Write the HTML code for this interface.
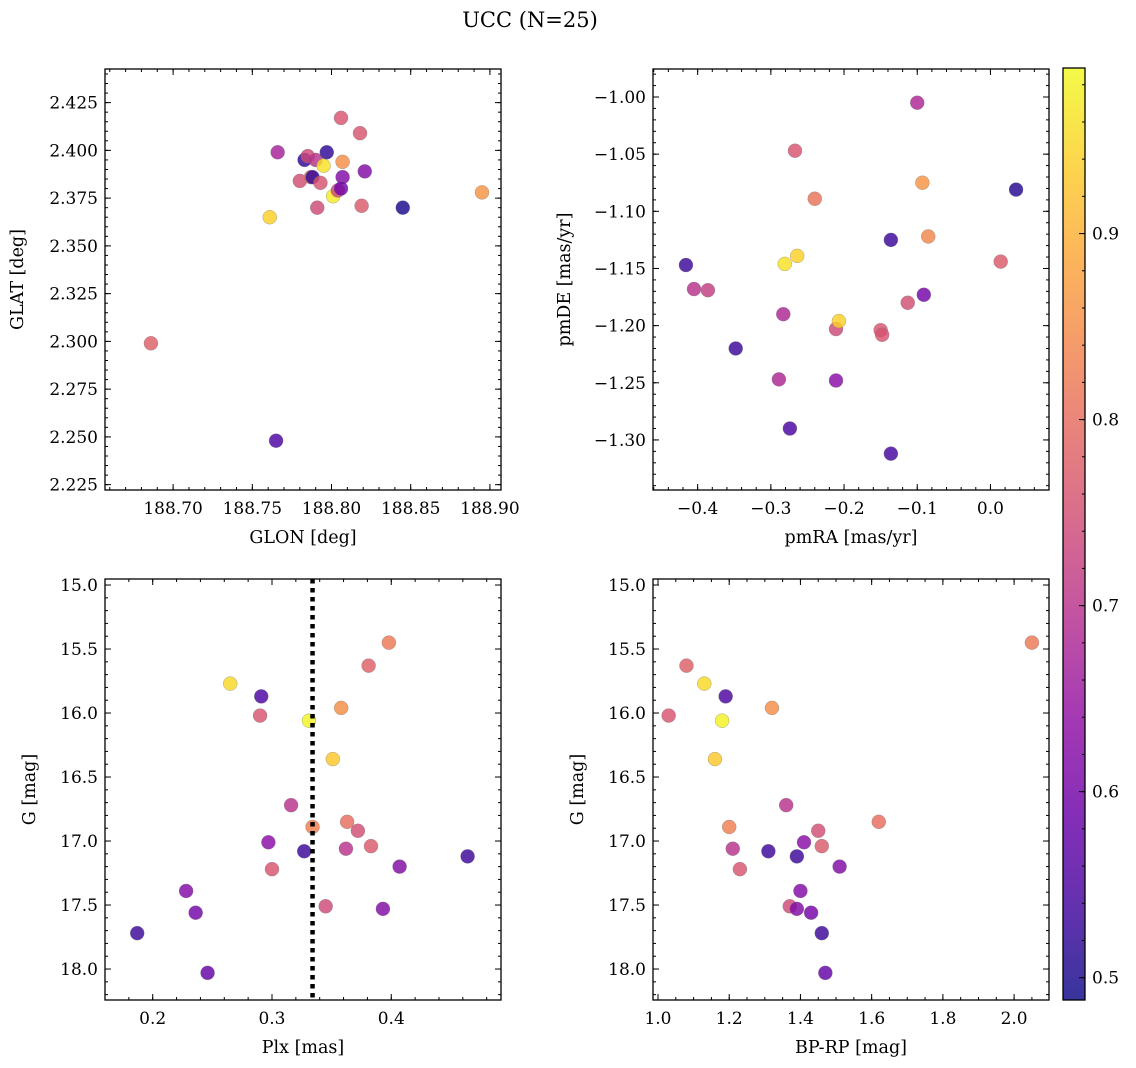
<!DOCTYPE html>
<html><head><meta charset="utf-8"><style>
html,body{margin:0;padding:0;background:#fff}
svg{display:block;font-family:"DejaVu Serif","Liberation Serif",serif}
</style></head><body>
<svg id="fig" width="1136" height="1068" viewBox="0 0 1136 1068" xmlns="http://www.w3.org/2000/svg">
<text x="530" y="27" font-size="21" text-anchor="middle">UCC (N=25)</text>
</svg>
<script>
const glon=[188.686,188.765,188.761,188.766,188.783,188.780,188.785,188.787,188.788,188.790,188.793,188.791,188.795,188.797,188.801,188.804,188.806,188.807,188.807,188.806,188.818,188.821,188.819,188.845,188.895];
const glat=[2.299,2.248,2.365,2.399,2.395,2.384,2.397,2.386,2.386,2.395,2.383,2.370,2.392,2.399,2.376,2.379,2.417,2.394,2.386,2.380,2.409,2.389,2.371,2.370,2.378];
const valA=[0.78,0.55,0.94,0.67,0.52,0.75,0.74,0.80,0.52,0.70,0.76,0.74,0.96,0.52,0.97,0.74,0.76,0.85,0.62,0.60,0.76,0.62,0.77,0.50,0.86];
const pmra=[-0.416,-0.405,-0.386,-0.348,-0.289,-0.283,-0.274,-0.281,-0.264,-0.267,-0.240,-0.211,-0.207,-0.211,-0.150,-0.148,-0.136,-0.136,-0.113,-0.100,-0.093,-0.091,-0.085,0.014,0.035];
const pmde=[-1.147,-1.168,-1.169,-1.220,-1.247,-1.190,-1.290,-1.146,-1.139,-1.047,-1.089,-1.203,-1.196,-1.248,-1.204,-1.208,-1.125,-1.312,-1.180,-1.005,-1.075,-1.173,-1.122,-1.144,-1.081];
const valB=[0.53,0.70,0.72,0.53,0.68,0.68,0.55,0.96,0.94,0.76,0.81,0.74,0.94,0.63,0.76,0.76,0.53,0.54,0.75,0.68,0.86,0.60,0.84,0.77,0.51];
const plx=[0.398,0.381,0.265,0.291,0.290,0.331,0.358,0.351,0.316,0.334,0.363,0.372,0.383,0.297,0.362,0.327,0.464,0.407,0.300,0.228,0.345,0.393,0.236,0.187,0.246];
const gmag=[15.45,15.63,15.77,15.87,16.02,16.06,15.96,16.36,16.72,16.89,16.85,16.92,17.04,17.01,17.06,17.08,17.12,17.20,17.22,17.39,17.51,17.53,17.56,17.72,18.03];
const bprp=[2.05,1.08,1.13,1.19,1.03,1.18,1.32,1.16,1.36,1.20,1.62,1.45,1.46,1.41,1.21,1.31,1.39,1.51,1.23,1.40,1.37,1.39,1.43,1.46,1.47];
const valC=[0.82,0.78,0.95,0.55,0.76,0.98,0.85,0.93,0.70,0.83,0.80,0.75,0.77,0.63,0.70,0.53,0.53,0.62,0.76,0.62,0.74,0.62,0.60,0.53,0.58];
const plxLine=0.334;
const cbTicks=[0.5,0.6,0.7,0.8,0.9];
const VMIN=0.488, VMAX=0.989;

const NS="http://www.w3.org/2000/svg";
const svg=document.getElementById('fig');
const stops=[[13,8,135],[65,4,157],[106,0,168],[143,13,164],[177,42,144],[204,71,120],[225,100,98],[242,132,75],[252,166,54],[252,206,37],[240,249,33]];
function plasma(t){t=Math.max(0,Math.min(1,t));const f=t*10,i=Math.min(9,Math.floor(f)),r=f-i;const a=stops[i],b=stops[i+1];
 return 'rgb('+a.map((v,k)=>Math.round(v+(b[k]-v)*r)).join(',')+')';}
function col(v){return plasma((v-VMIN)/(VMAX-VMIN));}
function mk(tag,attrs,parent){const e=document.createElementNS(NS,tag);for(const k in attrs)e.setAttribute(k,attrs[k]);(parent||svg).appendChild(e);return e;}
function fmt(v,d){return (v<0?'\u2212':'')+Math.abs(v).toFixed(d);}
const TF=17, LF=17.5;

function panel(o){
 const g=mk('g',{});
 
 
 const X=v=>o.L+(v-o.x0)/(o.x1-o.x0)*(o.R-o.L);
 const Y=v=>o.B-(v-o.y0)/(o.y1-o.y0)*(o.B-o.T);
 for(let i=0;i<o.xs.length;i++){
  const c=mk('circle',{cx:X(o.xs[i]),cy:Y(o.ys[i]),r:7,fill:col(o.vs[i]),'fill-opacity':0.82,stroke:'#777','stroke-width':0.5,'stroke-opacity':0.6},g);
  
  
 }
 if(o.vline!==undefined){
  const l=mk('line',{x1:X(o.vline),x2:X(o.vline),y1:o.T,y2:o.B,stroke:'#000','stroke-width':4.5,'stroke-dasharray':'4.5,4.5'},g);
  
  
 }
 const fr=mk('rect',{x:o.L,y:o.T,width:o.R-o.L,height:o.B-o.T,fill:'none',stroke:'#000','stroke-width':1.3},g);
 
 
 const xmin=Math.ceil(Math.min(o.x0,o.x1)/o.xmn-1e-6);
 for(let k=xmin;k*o.xmn<=Math.max(o.x0,o.x1)+1e-9;k++){const v=k*o.xmn,x=X(v);
  mk('line',{x1:x,x2:x,y1:o.B,y2:o.B-3,stroke:'#000','stroke-width':1},g);mk('line',{x1:x,x2:x,y1:o.T,y2:o.T+3,stroke:'#000','stroke-width':1},g);}
 o.xt.forEach(v=>{const x=X(v);
  mk('line',{x1:x,x2:x,y1:o.B,y2:o.B-6,stroke:'#000','stroke-width':1},g);mk('line',{x1:x,x2:x,y1:o.T,y2:o.T+6,stroke:'#000','stroke-width':1},g);
  const t=mk('text',{x:x,y:o.B+24,'font-size':TF,'text-anchor':'middle'},g);t.textContent=fmt(v,o.xd);
  
  });
 const ymin=Math.ceil(Math.min(o.y0,o.y1)/o.ymn-1e-6);
 for(let k=ymin;k*o.ymn<=Math.max(o.y0,o.y1)+1e-9;k++){const v=k*o.ymn,y=Y(v);
  mk('line',{x1:o.L,x2:o.L+3,y1:y,y2:y,stroke:'#000','stroke-width':1},g);mk('line',{x1:o.R,x2:o.R-3,y1:y,y2:y,stroke:'#000','stroke-width':1},g);}
 o.yt.forEach(v=>{const y=Y(v);
  mk('line',{x1:o.L,x2:o.L+6,y1:y,y2:y,stroke:'#000','stroke-width':1},g);mk('line',{x1:o.R,x2:o.R-6,y1:y,y2:y,stroke:'#000','stroke-width':1},g);
  const t=mk('text',{x:o.L-7,y:y+6,'font-size':TF,'text-anchor':'end'},g);t.textContent=fmt(v,o.yd);
  
  });
 const xl=mk('text',{x:(o.L+o.R)/2,y:o.B+53,'font-size':LF,'text-anchor':'middle'},g);xl.textContent=o.xlab;
 
 
 const yl=mk('text',{x:0,y:0,'font-size':LF,'text-anchor':'middle',transform:`translate(${o.ylx},${(o.T+o.B)/2}) rotate(-90)`},g);yl.textContent=o.ylab;
 
 
}
panel({name:'glon-glat-panel',L:105,R:501,T:69,B:490,x0:188.657,x1:188.907,y0:2.2222,y1:2.4426,xs:glon,ys:glat,vs:valA,
 xt:[188.70,188.75,188.80,188.85,188.90],xd:2,xmn:0.01,yt:[2.225,2.25,2.275,2.3,2.325,2.35,2.375,2.4,2.425],yd:3,ymn:0.005,xlab:'GLON [deg]',ylab:'GLAT [deg]',ylx:23});
panel({name:'pmra-pmde-panel',L:653,R:1049,T:69,B:490,x0:-0.461,x1:0.080,y0:-1.3438,y1:-0.9755,xs:pmra,ys:pmde,vs:valB,
 xt:[-0.4,-0.3,-0.2,-0.1,0.0],xd:1,xmn:0.02,yt:[-1.3,-1.25,-1.2,-1.15,-1.1,-1.05,-1.0],yd:2,ymn:0.01,xlab:'pmRA [mas/yr]',ylab:'pmDE [mas/yr]',ylx:570});
panel({name:'plx-g-panel',L:105,R:501,T:579,B:1000,x0:0.160,x1:0.492,y0:18.242,y1:14.953,xs:plx,ys:gmag,vs:valC,vline:plxLine,
 xt:[0.2,0.3,0.4],xd:1,xmn:0.02,yt:[15,15.5,16,16.5,17,17.5,18],yd:1,ymn:0.1,xlab:'Plx [mas]',ylab:'G [mag]',ylx:35});
panel({name:'bprp-g-panel',L:653,R:1049,T:579,B:1000,x0:0.986,x1:2.098,y0:18.242,y1:14.953,xs:bprp,ys:gmag,vs:valC,
 xt:[1.0,1.2,1.4,1.6,1.8,2.0],xd:1,xmn:0.05,yt:[15,15.5,16,16.5,17,17.5,18],yd:1,ymn:0.1,xlab:'BP-RP [mag]',ylab:'G [mag]',ylx:583});

const cb=mk('g',{});


const defs=mk('defs',{},cb);
const lg=mk('linearGradient',{id:'cbg',x1:0,y1:1,x2:0,y2:0},defs);
for(let i=0;i<=20;i++){mk('stop',{offset:i/20,'stop-color':plasma(i/20),'stop-opacity':0.82},lg);}
const CT=68,CBt=1000,CL=1063,CR=1085;
mk('rect',{x:CL,y:CT,width:CR-CL,height:CBt-CT,fill:'url(#cbg)',stroke:'#000','stroke-width':1.3},cb);
const CY=v=>CBt-(v-VMIN)/(VMAX-VMIN)*(CBt-CT);
for(let k=25;k<=49;k++){const v=k*0.02;if(v<VMIN||v>VMAX)continue;mk('line',{x1:CR,x2:CR-3,y1:CY(v),y2:CY(v),stroke:'#000','stroke-width':1},cb);}
cbTicks.forEach(v=>{const y=CY(v);mk('line',{x1:CR,x2:CR-6,y1:y,y2:y,stroke:'#000','stroke-width':1},cb);
 const t=mk('text',{x:CR+7,y:y+6,'font-size':TF},cb);t.textContent=v.toFixed(1);
 
 });
</script>
</body></html>
